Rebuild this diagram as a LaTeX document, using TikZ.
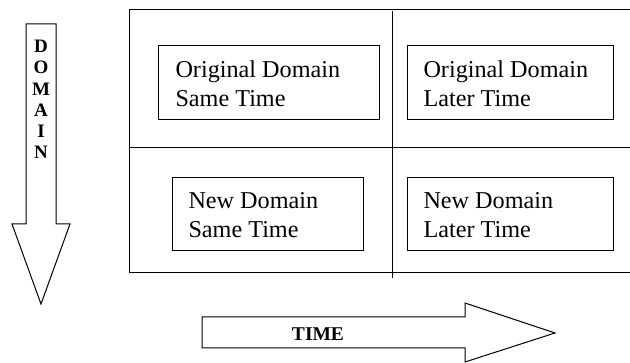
\documentclass[tikz,border=0pt]{standalone}
\usepackage{fontspec}
\setmainfont{Liberation Serif}
\begin{document}
\begin{tikzpicture}[x=1pt,y=-1pt,line width=1pt,
  cellbox/.style={draw,line width=1.1pt,inner sep=0pt,minimum height=74pt,anchor=north west},
  celltext/.style={anchor=west,align=left,inner sep=0pt,font=\fontsize{24.2}{29}\selectfont},
  arrowlbl/.style={inner sep=0pt,font=\bfseries\fontsize{19}{22}\selectfont}]
\useasboundingbox (0,0) rectangle (630,363);
% grid
\draw (630,10) -- (129,10) -- (129,273) -- (630,273);
\draw (129,148) -- (630,148);
\draw (392,11) -- (392,278);
% boxes
\node[cellbox,minimum width=221pt] (tl) at (158,45) {};
\node[cellbox,minimum width=206pt] (tr) at (407,45) {};
\node[cellbox,minimum width=191pt,minimum height=73pt] (bl) at (172,177) {};
\node[cellbox,minimum width=206pt,minimum height=73pt] (br) at (407,177) {};
\node[celltext] (tlt) at ([xshift=17pt,yshift=-1pt]tl.west) {Original Domain\\Same Time};
\node[celltext] (trt) at ([xshift=16pt,yshift=-1pt]tr.west) {Original Domain\\Later Time};
\node[celltext] (blt) at ([xshift=16pt,yshift=-1pt]bl.west) {New Domain\\Same Time};
\node[celltext] (brt) at ([xshift=16pt,yshift=-1pt]br.west) {New Domain\\Later Time};
% DOMAIN arrow
\draw[line join=miter] (26,24) -- (56,24) -- (56,224) -- (70,224) -- (41,304) -- (12,224) -- (26,224) -- cycle;
\node[arrowlbl] (dd) at (41,46) {D};
\node[arrowlbl] (do) at (41,67) {O};
\node[arrowlbl] (dm) at (41,89) {M};
\node[arrowlbl] (da) at (41,110) {A};
\node[arrowlbl] (di) at (41,131) {I};
\node[arrowlbl] (dn) at (41,152) {N};
% TIME arrow
\draw[line join=miter] (202,317) -- (465,317) -- (465,303) -- (555,333) -- (465,362) -- (465,348) -- (202,348) -- cycle;
\node[arrowlbl,font=\bfseries\fontsize{19.5}{22}\selectfont] (time) at (318,334) {TIME};
\end{tikzpicture}
\end{document}
